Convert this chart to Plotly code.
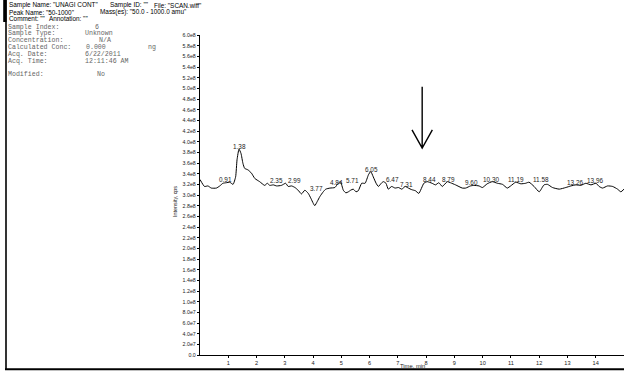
import math
import numpy as np
import plotly.graph_objects as go

# ---- chromatogram data (TIC, Intensity in cps vs. Time in min) ----
time_min = [
    0.00, 0.16, 0.28, 0.40, 0.58, 0.70, 0.81, 0.93, 1.05, 1.17, 1.26, 1.31, 1.38, 1.45,
    1.52, 1.58, 1.70, 1.82, 1.94, 2.11, 2.29, 2.38, 2.47, 2.59, 2.71, 2.88, 3.03, 3.12,
    3.24, 3.36, 3.47, 3.59, 3.71, 3.83, 3.92, 4.01, 4.06, 4.15, 4.24, 4.36, 4.45, 4.60,
    4.77, 4.89, 4.97, 5.07, 5.16, 5.25, 5.33, 5.42, 5.52, 5.60, 5.72, 5.84, 5.96, 6.04,
    6.13, 6.23, 6.31, 6.43, 6.49, 6.58, 6.66, 6.78, 6.90, 7.02, 7.14, 7.26, 7.37, 7.49,
    7.62, 7.74, 7.92, 8.04, 8.21, 8.33, 8.45, 8.57, 8.75, 8.86, 9.04, 9.28, 9.40, 9.57,
    9.69, 9.87, 9.99, 10.16, 10.34, 10.52, 10.70, 10.87, 10.99, 11.17, 11.35, 11.52,
    11.64, 11.82, 12.00, 12.17, 12.29, 12.47, 12.71, 12.94, 13.12, 13.30, 13.47, 13.65,
    13.83, 14.01, 14.12, 14.24, 14.42, 14.60, 14.77, 14.89, 15.00,
]
intensity_e8 = [
    3.29, 3.16, 3.17, 3.13, 3.13, 3.17, 3.22, 3.23, 3.24, 3.20, 3.34, 3.66, 3.86, 3.78,
    3.59, 3.50, 3.47, 3.41, 3.31, 3.25, 3.18, 3.22, 3.18, 3.19, 3.17, 3.18, 3.22, 3.16,
    3.17, 3.14, 3.09, 3.02, 3.09, 3.03, 2.94, 2.84, 2.80, 2.88, 2.97, 3.06, 3.11, 3.13,
    3.14, 3.22, 3.25, 3.09, 3.04, 3.06, 3.09, 3.11, 3.06, 3.08, 3.22, 3.22, 3.38, 3.44,
    3.34, 3.22, 3.16, 3.23, 3.25, 3.22, 3.11, 3.16, 3.13, 3.14, 3.11, 3.16, 3.13, 3.10,
    3.08, 3.03, 3.22, 3.25, 3.22, 3.19, 3.23, 3.16, 3.25, 3.23, 3.19, 3.13, 3.13, 3.17,
    3.18, 3.17, 3.14, 3.21, 3.25, 3.22, 3.20, 3.13, 3.17, 3.24, 3.21, 3.22,
    3.24, 3.16, 3.06, 3.19, 3.20, 3.14, 3.11, 3.14, 3.17, 3.19, 3.18, 3.22,
    3.19, 3.22, 3.16, 3.13, 3.17, 3.16, 3.11, 3.06, 3.11,
]
intensity = [v * 1e8 for v in intensity_e8]

# retention times of the labelled peaks
peak_rt = [0.91, 1.38, 2.35, 2.99, 3.77, 4.84, 5.71, 6.05, 6.47, 7.31,
           8.44, 8.79, 9.60, 10.30, 11.19, 11.58, 13.26, 13.96]
# horizontal nudges (px) so crowded labels do not collide
peak_label_dx = [0, 0, 10, 10, 10, 0, -9, 0, 10, 0,
                 -9, 0, 0, 0, 0, 14, 0, 0]

x_ticks = list(range(1, 15))
y_ticks = [i * 2e7 for i in range(31)]


def sci_label(v):
    if v == 0:
        return "0.0"
    e = int(math.floor(math.log10(v) + 1e-9))
    return f"{v / 10 ** e:.1f}e{e}"


y_ticktext = [sci_label(v) for v in y_ticks]

# sample information panel
header_rows = [
    [('Sample Name: "UNAGI CONT"', 7.3), ('Sample ID: ""', 108), ('File: "SCAN.wiff"', 152)],
    [('Peak Name: "50-1000"', 7.3), ('Mass(es): "50.0 - 1000.0 amu"', 98)],
    [('Comment: ""', 7.3), ('Annotation: ""', 47)],
]
info_rows = [
    [("Sample Index:", 6.3), ("6", 92.7)],
    [("Sample Type:", 6.3), ("Unknown", 83)],
    [("Concentration:", 6.3), ("N/A", 97)],
    [("Calculated Conc:", 6.3), ("0.000", 84), ("ng", 146)],
    [("Acq. Date:", 6.3), ("6/22/2011", 83)],
    [("Acq. Time:", 6.3), ("12:11:46 AM", 83)],
    [],
    [("Modified:", 6.3), ("No", 95)],
]

# ---- page geometry ----
W, H = 624, 371
L, R, T, B = 200, 0, 35, 16
PW, PH = W - L - R, H - T - B


def px(xp):
    return (xp - L) / PW


def py(yp):
    return (H - B - yp) / PH


SANS = "Liberation Sans, Arial, sans-serif"
MONO = "Liberation Mono, Courier New, monospace"

fig = go.Figure()
fig.add_trace(go.Scatter(
    x=time_min, y=intensity, mode="lines",
    line=dict(color="black", width=1, shape="spline", smoothing=0.5),
    hoverinfo="skip", showlegend=False,
))

annotations = []

# peak retention-time labels sitting on the apex
apex = np.interp(peak_rt, time_min, intensity)
for rt, yv, dx in zip(peak_rt, apex, peak_label_dx):
    annotations.append(dict(
        x=rt, y=yv, xref="x", yref="y", text=f"{rt:.2f}", showarrow=False,
        xanchor="center", yanchor="middle", xshift=dx, yshift=3,
        font=dict(family=SANS, size=6.4, color="#222"),
    ))

# header lines
for i, row in enumerate(header_rows):
    ypix = 5 + i * 7
    for text, xpix in row:
        annotations.append(dict(
            x=px(xpix), y=py(ypix), xref="paper", yref="paper", text=text,
            showarrow=False, xanchor="left", yanchor="middle",
            font=dict(family=SANS, size=6.4, color="black"),
        ))

for i, row in enumerate(info_rows):
    ypix = 27 + i * 6.8
    for text, xpix in row:
        annotations.append(dict(
            x=px(xpix), y=py(ypix), xref="paper", yref="paper", text=text,
            showarrow=False, xanchor="left", yanchor="middle",
            font=dict(family=MONO, size=6.6, color="#666"),
        ))

# axis titles
annotations.append(dict(
    x=0.5, y=py(365.5), xref="paper", yref="paper", text="Time, min",
    showarrow=False, xanchor="center", yanchor="middle",
    font=dict(family=SANS, size=5.8, color="#222"),
))
annotations.append(dict(
    x=px(175), y=py(202), xref="paper", yref="paper", text="Intensity, cps",
    showarrow=False, xanchor="center", yanchor="middle", textangle=-90,
    font=dict(family=SANS, size=5.4, color="#222"),
))

shapes = [
    # page frame
    dict(type="rect", xref="paper", yref="paper", x0=px(3.2), x1=px(6.5), y0=py(22), y1=py(0),
         fillcolor="black", line=dict(width=0)),
    dict(type="line", xref="paper", yref="paper", x0=px(6), x1=px(6), y0=py(0), y1=py(369),
         line=dict(color="black", width=1.6)),
    dict(type="line", xref="paper", yref="paper", x0=px(5), x1=px(W), y0=py(369.3), y1=py(369.3),
         line=dict(color="black", width=2)),
    # down arrow marking the retention window
    dict(type="path", xref="x", yref="y",
         path="M 7.86 5.03e8 L 7.86 3.88e8 M 7.50 4.22e8 L 7.86 3.88e8 L 8.22 4.22e8",
         line=dict(color="black", width=1.4)),
]

fig.update_layout(
    width=W, height=H,
    margin=dict(l=L, r=R, t=T, b=B, pad=0),
    paper_bgcolor="white", plot_bgcolor="white",
    annotations=annotations, shapes=shapes,
    showlegend=False,
    xaxis=dict(
        range=[0, 15], tickvals=x_ticks, ticktext=[str(v) for v in x_ticks],
        ticks="outside", ticklen=2, tickwidth=0.8, tickcolor="black",
        showline=True, linecolor="black", linewidth=1.2,
        showgrid=False, zeroline=False,
        tickfont=dict(family=SANS, size=5.6, color="#222"),
    ),
    yaxis=dict(
        range=[0, 6e8], tickvals=y_ticks, ticktext=y_ticktext,
        ticks="outside", ticklen=2, tickwidth=0.8, tickcolor="black",
        showline=True, linecolor="black", linewidth=1.2,
        showgrid=False, zeroline=False,
        tickfont=dict(family=SANS, size=5.3, color="#222"),
    ),
)

fig.write_html("out.html")
